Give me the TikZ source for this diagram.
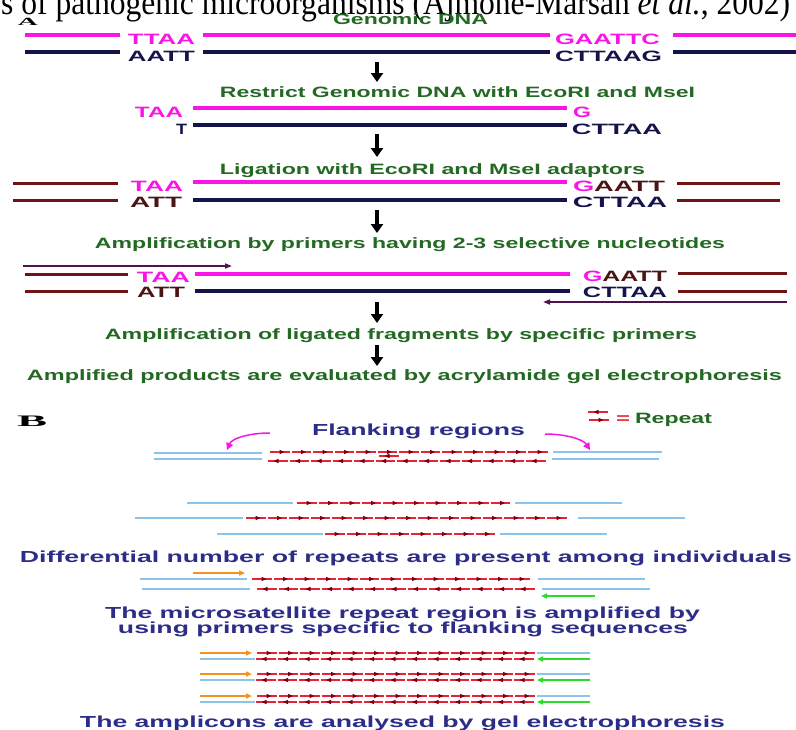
\documentclass[tikz,border=0pt]{standalone}
\usepackage{fontspec}
\setmainfont{Liberation Serif}
\setsansfont{Liberation Sans}
\usepackage{graphicx}
\usetikzlibrary{arrows.meta}
\definecolor{dnamag}{RGB}{250,20,230}
\definecolor{dnanavy}{RGB}{20,20,75}
\definecolor{adapt}{RGB}{110,20,20}
\definecolor{adapttxt}{RGB}{75,20,20}
\definecolor{stepgreen}{RGB}{35,105,35}
\definecolor{textnavy}{RGB}{45,45,135}
\definecolor{flank}{RGB}{140,195,235}
\definecolor{repred}{RGB}{232,35,55}
\definecolor{repdark}{RGB}{120,0,20}
\definecolor{primorange}{RGB}{245,145,30}
\definecolor{primgreen}{RGB}{40,220,40}
\definecolor{primpurple}{RGB}{75,20,80}
\newcommand{\wt}[2]{\resizebox{#1pt}{\height}{#2}}
\newcommand{\reprow}[4]{%
  \foreach \k in {1,...,#3}{%
    \pgfmathsetmacro{\ux}{#1+(\k-1)*21.5}%
    \pgfmathsetmacro{\rbase}{\ux+10-0.5*(#4)}%
    \pgfmathsetmacro{\rtip}{\ux+10+4.5*(#4)}%
    \draw[rep] (\ux,#2) -- ++(19.5,0);
    \fill[repdark] (\rbase,#2-2.2) -- (\rtip,#2) -- (\rbase,#2+2.2) -- cycle;}}

\begin{document}
\begin{tikzpicture}[x=1pt, y=-1pt,
  lab/.style={inner sep=0pt, anchor=base, font=\sffamily\bfseries\fontsize{15}{15}\selectfont},
  steptext/.style={lab, text=stepgreen},
  btext/.style={lab, text=textnavy, font=\sffamily\bfseries\fontsize{16}{16}\selectfont},
  magstrand/.style={dnamag, line width=4pt},
  navstrand/.style={dnanavy, line width=4pt},
  adaptor/.style={adapt, line width=3pt},
  stepdown/.style={line width=3.5pt, -{Triangle[width=12pt,length=9pt]}},
  aprimer/.style={primpurple, line width=1.6pt, -{Triangle[width=5pt,length=7pt]}},
  flankline/.style={flank, line width=2pt},
  rep/.style={repred, line width=1.4pt},
  fprimer/.style={primorange, line width=2pt, -{Triangle[width=5pt,length=6pt]}},
  rprimer/.style={primgreen, line width=2pt, -{Triangle[width=5pt,length=6pt]}},
  curvearr/.style={dnamag, line width=1.5pt, -{Triangle[width=7pt,length=7pt]}}]
\fill[white] (0,0) rectangle (796,729);
\useasboundingbox (0,0) rectangle (796,729);
\node[anchor=base west, inner sep=0pt, font=\fontsize{35}{35}\selectfont] (cite) at (1,14) {\wt{789}{s of pathogenic microorganisms (Ajmone-Marsan \textit{et al.}, 2002)}};
\node[anchor=base, inner sep=0pt, font=\bfseries\fontsize{11}{11}\selectfont] (panA) at (28,25) {\wt{20}{A}};
\node[anchor=base, inner sep=0pt, font=\bfseries\fontsize{16}{16}\selectfont] (panB) at (32,426) {\wt{30}{B}};

\node[steptext] (gdna) at (410.5,24) {\wt{155}{Genomic DNA}};
\draw[magstrand] (25,35) -- (120,35) (203,35) -- (550,35) (673,35) -- (796,35);
\draw[navstrand] (25,52) -- (120,52) (203,52) -- (550,52) (673,52) -- (796,52);
\node[lab, text=dnamag] (ttaa) at (161.5,44) {\wt{67}{TTAA}};
\node[lab, text=dnanavy] (aatt) at (161.5,61) {\wt{67}{AATT}};
\node[lab, text=dnamag] (gaattc) at (607.5,44) {\wt{105}{GAATTC}};
\node[lab, text=dnanavy] (cttaag) at (608.5,61) {\wt{107}{CTTAAG}};
\coordinate (d1a) at (377,62); \coordinate (d1b) at (377,82);
\draw[stepdown] (d1a) -- (d1b);

\node[steptext] (restrict) at (457.5,97) {\wt{475}{Restrict Genomic DNA with EcoRI and MseI}};
\draw[magstrand] (193,108) -- (567,108);
\draw[navstrand] (193,125) -- (567,125);
\node[lab, text=dnamag] (taa2) at (159,117) {\wt{48}{TAA}};
\node[lab, text=dnamag] (g2) at (582,117) {\wt{18}{G}};
\node[lab, text=dnanavy] (t2) at (181.5,134) {\wt{11}{T}};
\node[lab, text=dnanavy] (cttaa2) at (617,134) {\wt{90}{CTTAA}};
\coordinate (d2a) at (377,134); \coordinate (d2b) at (377,157);
\draw[stepdown] (d2a) -- (d2b);

\node[steptext] (ligate) at (432.5,174) {\wt{425}{Ligation with EcoRI and MseI adaptors}};
\draw[adaptor] (13,183) -- (118,183) (13,200) -- (118,200) (677,183) -- (780,183) (677,200) -- (780,200);
\draw[magstrand] (193,182) -- (567,182);
\draw[navstrand] (193,200) -- (567,200);
\node[lab, text=dnamag] (taa3) at (157,191) {\wt{52}{TAA}};
\node[lab, text=adapttxt] (att3) at (156,207) {\wt{52}{ATT}};
\node[lab, text=adapttxt] (gaatt3) at (619,191) {\wt{92}{\textcolor{dnamag}{G}AATT}};
\node[lab, text=dnanavy] (cttaa3) at (620,207) {\wt{94}{CTTAA}};
\coordinate (d3a) at (377,210); \coordinate (d3b) at (377,233);
\draw[stepdown] (d3a) -- (d3b);

\node[steptext] (selamp) at (410,248) {\wt{630}{Amplification by primers having 2-3 selective nucleotides}};
\coordinate (p1a) at (23,266); \coordinate (p1b) at (232,266);
\draw[aprimer] (p1a) -- (p1b);
\draw[adaptor] (25,274) -- (128,274) (25,291) -- (128,291) (678,273) -- (787,273) (678,291) -- (787,291);
\draw[magstrand] (195,274) -- (570,274);
\draw[navstrand] (195,291) -- (570,291);
\node[lab, text=dnamag] (taa4) at (163.5,282) {\wt{53}{TAA}};
\node[lab, text=adapttxt] (att4) at (161,297) {\wt{48}{ATT}};
\node[lab, text=adapttxt] (gaatt4) at (625,281) {\wt{84}{\textcolor{dnamag}{G}AATT}};
\node[lab, text=dnanavy] (cttaa4) at (625,297) {\wt{84}{CTTAA}};
\coordinate (p2a) at (787,302); \coordinate (p2b) at (543,302);
\draw[aprimer] (p2a) -- (p2b);
\coordinate (d4a) at (377,302); \coordinate (d4b) at (377,323);
\draw[stepdown] (d4a) -- (d4b);

\node[steptext] (ligamp) at (401,339) {\wt{592}{Amplification of ligated fragments by specific primers}};
\coordinate (d5a) at (377,345); \coordinate (d5b) at (377,366);
\draw[stepdown] (d5a) -- (d5b);
\node[steptext] (gel) at (404.5,380) {\wt{755}{Amplified products are evaluated by acrylamide gel electrophoresis}};

\reprow{588}{412}{1}{-1}
\reprow{589}{420}{1}{1}
\node[lab, text=repred] (equals) at (623,423) {\wt{14}{=}};
\node[lab, text=stepgreen] (repeat) at (673.5,423) {\wt{77}{Repeat}};

\node[btext] (flanking) at (418.5,435) {\wt{213}{Flanking regions}};
\coordinate (c1a) at (270,433); \coordinate (c1b) at (227,450);
\coordinate (c2a) at (545,434); \coordinate (c2b) at (590,450);
\draw[curvearr] (c1a) .. controls (250,433) and (232,438) .. (c1b);
\draw[curvearr] (c2a) .. controls (565,434) and (583,439) .. (c2b);
\draw[flankline] (154,453) -- (262,453) (154,459) -- (262,459) (553,452) -- (662,452) (552,459) -- (659,459);
\reprow{270}{452}{13}{1}
\reprow{268}{461}{13}{-1}
\reprow{379}{456}{1}{-1}

\draw[flankline] (187,503) -- (293,503) (515,503) -- (622,503);
\reprow{297}{503}{10}{1}
\draw[flankline] (135,518) -- (243,518) (578,518) -- (685,518);
\reprow{246}{518}{15}{1}
\draw[flankline] (217,534) -- (323,534) (500,534) -- (607,534);
\reprow{325}{534}{8}{1}
\node[btext] (differ) at (406,562) {\wt{772}{Differential number of repeats are present among individuals}};

\coordinate (f1a) at (193,573); \coordinate (f1b) at (245,573);
\draw[fprimer] (f1a) -- (f1b);
\draw[flankline] (140,579) -- (247,579) (538,579) -- (645,579) (142,589) -- (250,589) (542,589) -- (650,589);
\reprow{252}{579}{13}{1}
\reprow{257}{589}{13}{-1}
\coordinate (r1a) at (595,596); \coordinate (r1b) at (541,596);
\draw[rprimer] (r1a) -- (r1b);
\node[btext] (amp1) at (402.5,618) {\wt{595}{The microsatellite repeat region is amplified by}};
\node[btext] (amp2) at (403,633) {\wt{570}{using primers specific to flanking sequences}};

\foreach \t [count=\i] in {653,674,696}{
  \coordinate (fa\i) at (200,\t); \coordinate (fb\i) at (252,\t);
  \coordinate (ra\i) at (590,\t+6); \coordinate (rb\i) at (537,\t+6);
  \draw[fprimer] (fa\i) -- (fb\i);
  \draw[flankline] (537,\t) -- (590,\t) (200,\t+6) -- (255,\t+6);
  \reprow{257}{\t}{13}{1}
  \reprow{256}{\t+6}{13}{-1}
  \draw[rprimer] (ra\i) -- (rb\i);
}
\node[btext] (amplicon) at (402.5,727) {\wt{645}{The amplicons are analysed by gel electrophoresis}};
\end{tikzpicture}
\end{document}
